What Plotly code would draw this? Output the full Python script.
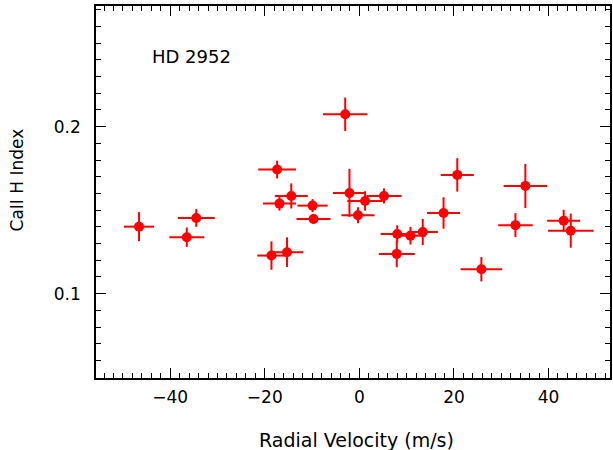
import plotly.graph_objects as go

rv = [-46.6, -36.5, -34.5, -17.4, -16.9, -14.4, -9.9, -9.7, -18.6, -15.3,
      -3.0, -2.1, 1.2, -0.3, 5.2, 8.0, 10.8, 13.4, 7.9, 17.8,
      20.7, 25.8, 33.0, 35.1, 43.2, 44.7]
rv_err = [3.2, 3.7, 3.9, 4.0, 3.5, 3.5, 3.2, 3.6, 3.0, 3.4,
          4.7, 3.5, 3.75, 3.5, 3.7, 3.5, 3.2, 3.2, 3.8, 3.5,
          3.5, 4.4, 3.65, 4.6, 3.5, 4.8]
caii = [0.1401, 0.1338, 0.1453, 0.1743, 0.1539, 0.1585, 0.1527, 0.1447, 0.1228, 0.1248,
        0.2074, 0.1603, 0.1555, 0.1469, 0.1585, 0.1357, 0.1347, 0.1369, 0.1238, 0.1483,
        0.1711, 0.1146, 0.1410, 0.1645, 0.1437, 0.1377]
caii_err = [0.0087, 0.0058, 0.0053, 0.0053, 0.0042, 0.0075, 0.0039, 0.0028, 0.0085, 0.0089,
            0.0100, 0.0144, 0.0058, 0.0048, 0.0045, 0.0052, 0.0053, 0.0078, 0.0080, 0.0094,
            0.0100, 0.0073, 0.0072, 0.0132, 0.0065, 0.0102]

star = "HD 2952"
x_title = "Radial Velocity (m/s)"
y_title = "CaII H Index"

FONT = "DejaVu Sans"

fig = go.Figure()
fig.add_trace(go.Scatter(
    x=rv, y=caii, mode="markers",
    marker=dict(color="red", size=10, line=dict(width=0)),
    error_x=dict(type="data", array=rv_err, color="red", thickness=2, width=0),
    error_y=dict(type="data", array=caii_err, color="red", thickness=2, width=0),
    showlegend=False,
))

axis_common = dict(
    showline=True, linecolor="black", linewidth=1.5, mirror="allticks",
    ticks="inside", ticklen=10, tickwidth=1.2, tickcolor="black",
    showgrid=False, zeroline=False,
    tickfont=dict(family=FONT, size=17, color="black"),
)

fig.update_xaxes(range=[-55.7, 53], tickmode="linear", tick0=0, dtick=20,
                 minor=dict(ticks="inside", dtick=2, ticklen=5, tickwidth=1, tickcolor="black"),
                 ticklabelstandoff=3, **axis_common)
fig.update_yaxes(range=[0.0495, 0.2722], tickmode="array", tickvals=[0.1, 0.2], ticktext=["0.1", "0.2"],
                 minor=dict(ticks="inside", dtick=0.01, tick0=0, ticklen=5, tickwidth=1, tickcolor="black"),
                 ticklabelstandoff=10, **axis_common)

fig.add_annotation(text=star, xref="paper", yref="paper", x=0.1047, y=0.864,
                   xanchor="left", yanchor="middle", showarrow=False,
                   font=dict(family=FONT, size=18, color="black"))
fig.add_annotation(text=x_title, xref="paper", yref="paper", x=0.507, y=-0.167,
                   xanchor="center", yanchor="middle", showarrow=False,
                   font=dict(family=FONT, size=19, color="black"))
fig.add_annotation(text=y_title, xref="paper", yref="paper", x=-0.153, y=0.532,
                   xanchor="center", yanchor="middle", showarrow=False, textangle=-90,
                   font=dict(family=FONT, size=17, color="black"))

fig.update_layout(
    width=613, height=450,
    margin=dict(l=96, r=1, t=6, b=72),
    paper_bgcolor="white", plot_bgcolor="white",
)

fig.write_html("out.html", config={"displayModeBar": False},
               post_script="document.body.style.margin='0px';document.body.style.overflow='hidden';")
